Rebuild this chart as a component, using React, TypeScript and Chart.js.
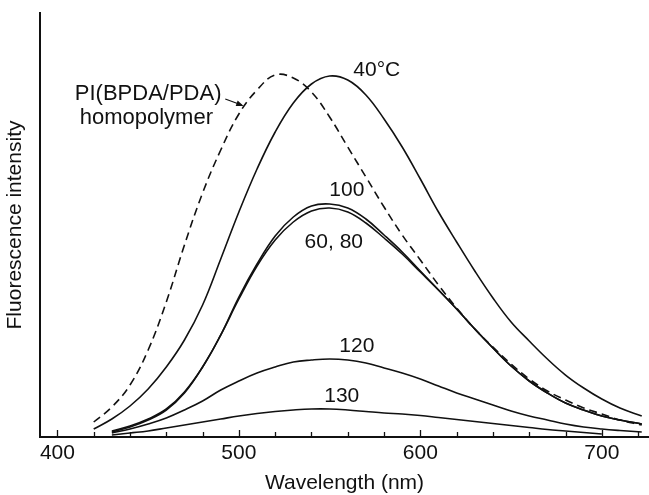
import React, { useEffect, useRef } from "react";
import { Chart, registerables } from "chart.js";

Chart.register(...registerables);

// Wavelength grid (nm)
const wavelengths = [420, 430, 440, 450, 460, 470, 480, 490, 500, 510, 520, 530, 540, 550, 560, 570, 580, 590, 600, 610, 620, 630, 640, 650, 660, 670, 680, 690, 700, 710, 722];

// Fluorescence intensity (arbitrary units)
const homopolymer = [15, 30, 52, 87, 135, 192, 244, 287, 323, 347, 362, 359, 345, 320, 290, 260, 230, 202, 177, 152, 129, 108, 90, 73, 58, 46, 37, 29, 23, 17, 12];
const t40 = [8, 18, 31, 48, 70, 97, 132, 178, 225, 268, 305, 334, 353, 361, 357, 342, 318, 290, 258, 225, 195, 166, 139, 115, 96, 78, 62, 49, 38, 29, 21];
const t100 = [null, 5, 10, 17, 27, 44, 70, 102, 140, 173, 201, 220, 231, 233, 229, 218, 202, 185, 166, 147, 128, 108, 89, 71, 56, 44, 34, 27, 21, 17, 13];
const t60_80 = [null, 6, 11, 18, 28, 45, 70, 102, 138, 171, 197, 215, 226, 229, 225, 214, 199, 183, 165, 147, 128, 108, 89, 71, 56, 44, 34, 27, 21, 17, 13];
const t120 = [null, 4, 8, 13, 19, 27, 36, 47, 56, 64, 70, 75, 77, 78, 77, 74, 69, 64, 58, 51, 44, 38, 32, 26, 21, 17, 13, 10, 8, 6.5, 5];
const t130 = [null, 2, 4, 6, 9, 12, 15, 18, 21, 23.5, 25.5, 27, 28, 28, 27, 25.5, 24, 23, 21.5, 19.5, 17.5, 15.5, 13.5, 11.5, 9.5, 7.5, 6, 4.5, 3, null, null];

const xTickLabels = [400, 500, 600, 700];
const xTickMarks = [400, 420, 440, 460, 480, 500, 520, 540, 560, 580, 600, 620, 640, 660, 680, 700, 720];

// Curve labels (text, wavelength, intensity)
const labelTexts = ["40°C", "PI(BPDA/PDA)", "homopolymer", "100", "60, 80", "120", "130"];
const labelX = [576, 450, 449, 559.5, 552.3, 565, 556.7];
const labelY = [367, 343, 319, 247, 195, 91, 41];

const FONT = '"Liberation Sans", Arial, Helvetica, sans-serif';
const INK = "#111";

function toPoints(vals: (number | null)[]) {
  const pts: { x: number; y: number }[] = [];
  vals.forEach((v, i) => {
    if (v !== null) pts.push({ x: wavelengths[i], y: v });
  });
  return pts;
}

const overlayPlugin = {
  id: "overlay",
  afterDatasetsDraw(chart: any) {
    const { ctx, chartArea } = chart;
    const xs = chart.scales.x;
    const ys = chart.scales.y;
    ctx.save();
    ctx.strokeStyle = INK;
    ctx.lineWidth = 1.3;
    xTickMarks.forEach((t) => {
      const px = Math.round(xs.getPixelForValue(t)) + 0.5;
      ctx.beginPath();
      ctx.moveTo(px, chartArea.bottom);
      ctx.lineTo(px, chartArea.bottom - (t % 100 === 0 ? 7 : 5));
      ctx.stroke();
    });
    ctx.fillStyle = INK;
    ctx.textAlign = "center";
    ctx.textBaseline = "middle";
    labelTexts.forEach((txt, i) => {
      ctx.font = `${i === 1 || i === 2 ? 22 : 21}px ${FONT}`;
      ctx.fillText(txt, xs.getPixelForValue(labelX[i]), ys.getPixelForValue(labelY[i]));
    });
    // arrow from label to dashed curve
    const x1 = xs.getPixelForValue(492.5);
    const y1 = ys.getPixelForValue(338);
    const x2 = xs.getPixelForValue(501.5);
    const y2 = ys.getPixelForValue(332);
    ctx.lineWidth = 1.3;
    ctx.beginPath();
    ctx.moveTo(x1, y1);
    ctx.lineTo(x2, y2);
    ctx.stroke();
    const ang = Math.atan2(y2 - y1, x2 - x1);
    ctx.beginPath();
    ctx.moveTo(x2 + 2, y2 + 1);
    ctx.lineTo(x2 - 6 * Math.cos(ang - 0.5), y2 - 6 * Math.sin(ang - 0.5));
    ctx.lineTo(x2 - 6 * Math.cos(ang + 0.5), y2 - 6 * Math.sin(ang + 0.5));
    ctx.closePath();
    ctx.fill();
    ctx.restore();
  },
};

export default function App() {
  const ref = useRef<HTMLCanvasElement>(null);
  useEffect(() => {
    if (!ref.current) return;
    const line = (data: (number | null)[], dash: number[] = []) => ({
      data: toPoints(data),
      borderColor: INK,
      borderWidth: 1.6,
      borderDash: dash,
      pointRadius: 0,
      fill: false,
      tension: 0.4,
    });
    const chart = new Chart(ref.current, {
      type: "line",
      data: {
        datasets: [
          { label: "PI(BPDA/PDA) homopolymer", ...line(homopolymer, [8, 5]) },
          { label: "40°C", ...line(t40) },
          { label: "100", ...line(t100) },
          { label: "60, 80", ...line(t60_80) },
          { label: "120", ...line(t120) },
          { label: "130", ...line(t130) },
        ],
      },
      options: {
        animation: false,
        responsive: false,
        devicePixelRatio: 1,
        layout: { padding: { top: 13, right: 0, left: 0, bottom: 0 } },
        plugins: { legend: { display: false }, tooltip: { enabled: false } },
        scales: {
          x: {
            type: "linear",
            min: 390.4,
            max: 726,
            grid: { display: false, drawTicks: false },
            border: { display: true, color: INK, width: 2 },
            afterBuildTicks: (s: any) => {
              s.ticks = xTickLabels.map((v) => ({ value: v }));
            },
            afterFit: (s: any) => {
              s.height = 58;
            },
            ticks: {
              color: INK,
              padding: 4,
              maxRotation: 0,
              autoSkip: false,
              font: { family: FONT, size: 21 },
            },
            title: {
              display: true,
              text: "Wavelength (nm)",
              color: INK,
              font: { family: FONT, size: 21, lineHeight: 1.05 },
              padding: { top: 0, bottom: 1 },
            },
          },
          y: {
            min: 0,
            max: 424,
            grid: { display: false, drawTicks: false },
            border: { display: true, color: INK, width: 2 },
            ticks: { display: false },
            afterFit: (s: any) => {
              s.width = 40;
            },
            title: {
              display: true,
              text: "Fluorescence intensity",
              color: INK,
              font: { family: FONT, size: 21 },
              padding: { top: 3, bottom: 0 },
            },
          },
        },
      },
      plugins: [overlayPlugin],
    });
    return () => chart.destroy();
  }, []);
  return (
    <div style={{ position: "absolute", left: 0, top: 0, width: 649, height: 495, background: "#fff" }}>
      <canvas ref={ref} width={649} height={495} style={{ display: "block", width: 649, height: 495 }} />
    </div>
  );
}
